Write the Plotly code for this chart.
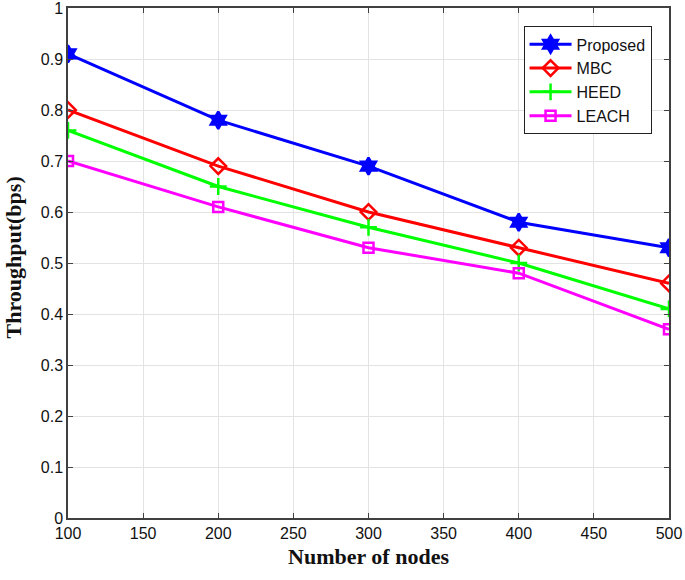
import plotly.graph_objects as go

nodes = [100, 200, 300, 400, 500]
proposed = [0.91, 0.78, 0.69, 0.58, 0.53]
mbc = [0.80, 0.69, 0.60, 0.53, 0.46]
heed = [0.76, 0.65, 0.57, 0.50, 0.41]
leach = [0.70, 0.61, 0.53, 0.48, 0.37]

series = [
    ("Proposed", proposed, "#0000ff", "hexagram", 13),
    ("MBC", mbc, "#ff0000", "diamond-open", 12),
    ("HEED", heed, "#00ff00", "cross-thin-open", 12),
    ("LEACH", leach, "#ff00ff", "square-open", 10),
]

fig = go.Figure()
for name, vals, col, sym, sz in series:
    fig.add_trace(go.Scatter(
        x=nodes, y=vals, name=name, mode="lines+markers",
        line=dict(color=col, width=3),
        marker=dict(symbol=sym, size=sz, color=col, line=dict(color=col, width=2.5)),
    ))

axis_common = dict(
    showgrid=True, gridcolor="#e3e3e3", gridwidth=1,
    showline=True, linecolor="#404040", linewidth=1.5, mirror="ticks",
    ticks="inside", ticklen=5, tickcolor="#404040",
    tickfont=dict(family="Liberation Sans, Arial", size=16, color="#111"),
    zeroline=False, ticklabeloverflow="allow", automargin=False,
)

title_font = dict(family="Liberation Serif, Times New Roman", size=22, color="#111", weight="bold")

fig.update_layout(
    width=685, height=580,
    margin=dict(l=68, r=16, t=8, b=62),
    plot_bgcolor="white", paper_bgcolor="white",
    xaxis=dict(range=[100, 500], tickvals=[100, 150, 200, 250, 300, 350, 400, 450, 500],
               title=dict(text="Number of nodes", standoff=8, font=title_font),
               **axis_common),
    yaxis=dict(range=[0, 1], tickvals=[0, 0.1, 0.2, 0.3, 0.4, 0.5, 0.6, 0.7, 0.8, 0.9, 1],
               ticktext=["0", "0.1", "0.2", "0.3", "0.4", "0.5", "0.6", "0.7", "0.8", "0.9", "1"],
               **axis_common),
    legend=dict(x=0.758, y=0.964, xanchor="left", yanchor="top",
                bgcolor="white", bordercolor="#222", borderwidth=1,
                font=dict(family="Liberation Sans, Arial", size=16, color="#111"),
                itemwidth=42, tracegroupgap=0, entrywidth=124, entrywidthmode="pixels"),
    showlegend=True,
    annotations=[dict(text="Throughput(bps)", textangle=-90, xref="paper", yref="paper",
                      x=-0.0905, y=0.51, xanchor="center", yanchor="middle",
                      showarrow=False, font=title_font)],
)

fig.write_html("out.html", config={"displayModeBar": False},
               post_script="document.body.style.margin='0';document.body.style.overflow='hidden';")
